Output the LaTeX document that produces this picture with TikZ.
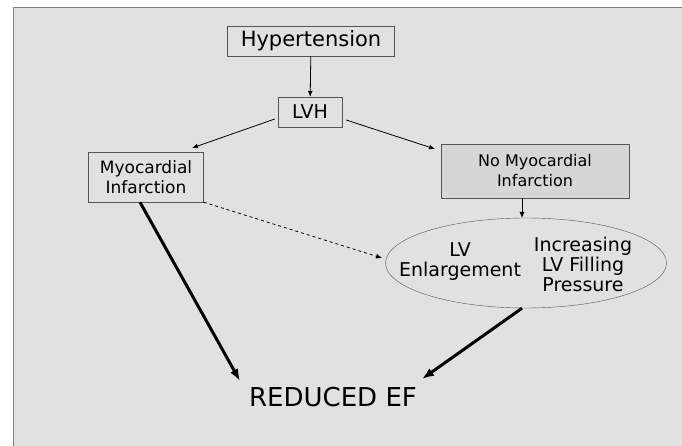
\documentclass[tikz,border=0pt]{standalone}
\usepackage{fontspec}
\setmainfont{DejaVu Sans}
\usetikzlibrary{shapes.geometric,arrows.meta}
\definecolor{panelgrey}{HTML}{E1E1E1}
\definecolor{boxgrey}{HTML}{D6D6D6}
\definecolor{linegrey}{HTML}{555555}
\begin{document}
\begin{tikzpicture}[x=1pt,y=-1pt]
\tikzstyle{stage}=[draw=linegrey,fill=panelgrey,font=\fontsize{17}{20}\selectfont,align=center,inner sep=0pt]
\tikzstyle{thin}=[-{Latex[length=6pt,width=5pt]},line width=0.8pt]
\tikzstyle{thick}=[-{Latex[length=12pt,width=9pt]},line width=3pt]
\useasboundingbox (0,0) rectangle (682,446);
\fill[white] (0,0) rectangle (682,446);
\fill[panelgrey] (13,8) rectangle (682,446);
\draw[gray,line width=1pt] (682,8) -- (13,8) -- (13,446);
\node[stage,minimum width=167pt,minimum height=30pt,font=\fontsize{21}{23}\selectfont] (hyp) at (311,41) {Hypertension};
\node[stage,minimum width=64pt,minimum height=30pt,font=\fontsize{19}{21}\selectfont] (lvh) at (310,112) {LVH};
\node[stage,minimum width=115pt,minimum height=50pt] (mi) at (146,177) {Myocardial\\Infarction};
\node[stage,fill=boxgrey,minimum width=188pt,minimum height=54pt,font=\fontsize{16}{20}\selectfont] (nomi) at (535,171) {No Myocardial\\Infarction};
\node[draw=linegrey,ellipse,minimum width=281pt,minimum height=90pt] (lv) at (526,263) {};
\node[font=\fontsize{19}{20}\selectfont,align=center] (lvtext) at (460,262) {LV\\Enlargement};
\node[font=\fontsize{19}{20}\selectfont,align=center] (lvptext) at (583,264) {Increasing\\LV Filling\\Pressure};
\node[font=\fontsize{26}{28}\selectfont] (ef) at (333,397) {REDUCED EF};
\draw[thin] (hyp) -- (lvh);
\draw[thin] (lvh.west) ++(-3,7) coordinate (l1) -- (192,148) coordinate (l2);
\draw[thin] (lvh.east) ++(4,8) coordinate (r1) -- (435,149) coordinate (r2);
\draw[thin] (nomi.south) ++(-13,0) coordinate (n1) -- (522,218) coordinate (n2);
\draw[thin,dashed] (mi.south east) -- (382,258) coordinate (d2);
\draw[thick] (mi.south) ++(-6,0) coordinate (t1) -- (240,381) coordinate (t2);
\draw[thick] (lv.south) ++(-4,0) coordinate (t3) -- (422,379) coordinate (t4);
\end{tikzpicture}
\end{document}
